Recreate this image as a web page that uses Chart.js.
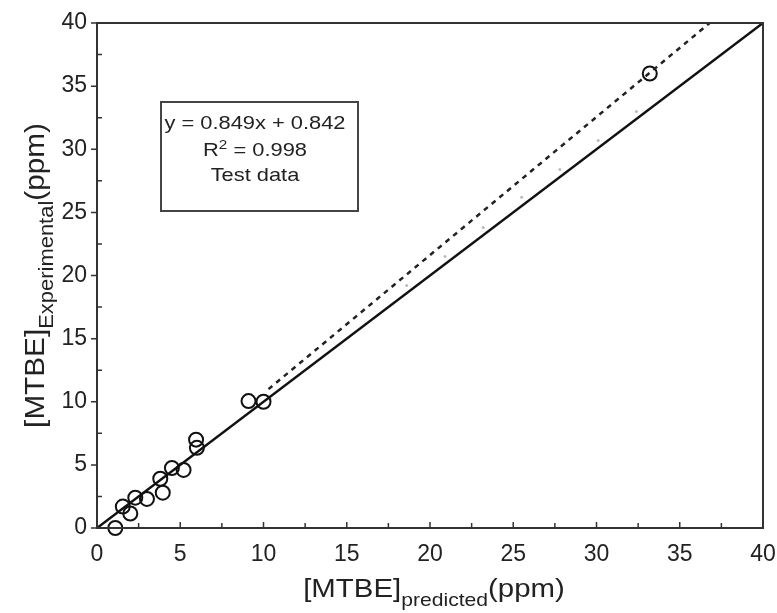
<!DOCTYPE html>
<html>
<head>
<meta charset="utf-8">
<script src="https://cdn.jsdelivr.net/npm/chart.js@4"></script>
<style>
  html, body { margin: 0; padding: 0; background: #fff; }
  #wrap { width: 777px; height: 613px; }
</style>
</head>
<body>
<div id="wrap"><canvas id="chart" width="777" height="613"></canvas></div>
<script>
// measured points (test data)
const predicted = [1.1, 1.55, 2.0, 2.3, 3.0, 3.8, 3.95, 4.5, 5.2, 5.95, 6.0, 9.1, 10.0, 33.2];
const experimental = [0, 1.7, 1.15, 2.4, 2.3, 3.9, 2.8, 4.75, 4.6, 7.0, 6.35, 10.05, 10.0, 36.0];

// faint grey marks between the lines
const faintX = [18.6, 20.9, 23.2, 25.5, 27.8, 30.1, 32.4];
const faintY = [19.2, 21.5, 23.8, 26.2, 28.4, 30.7, 33.0];

// y = x reference and the fitted line
const identityX = [0, 40];
const identityY = [0, 40];
const fitX = [10.3, 36.8];
const fitY = [11.0, 40];

const axisMin = 0;
const axisMax = 40;
const majorStep = 5;
const minorStep = 2.5;

const legendLines = ["y = 0.849x + 0.842", "R2 = 0.998", "Test data"];

const toPoints = (xs, ys) => xs.map((x, i) => ({ x: x, y: ys[i] }));

const fontFamily = "'Liberation Sans', Arial, sans-serif";
const ink = "#222";

// ticks (minor inside, major out on y) and the closing box
const frame = {
  id: "frame",
  afterDraw(chart) {
    const { ctx, chartArea: a, scales } = chart;
    ctx.save();
    ctx.strokeStyle = "#333";
    ctx.lineWidth = 2;
    ctx.strokeRect(a.left, a.top, a.right - a.left, a.bottom - a.top);
    ctx.lineWidth = 1.5;
    for (let v = axisMin; v <= axisMax; v += minorStep) {
      const major = v % majorStep === 0;
      const px = scales.x.getPixelForValue(v);
      const py = scales.y.getPixelForValue(v);
      ctx.beginPath();
      ctx.moveTo(px, a.bottom);
      ctx.lineTo(px, a.bottom - (major ? 6 : 5));
      ctx.moveTo(a.left, py);
      ctx.lineTo(major ? a.left - 6 : a.left + 5, py);
      ctx.stroke();
    }
    ctx.restore();
  }
};

// text pieces, stretched sideways like the scanned figure; sub = subscript
function drawRun(ctx, parts, x, y, size, sx, align) {
  const fontOf = p => (p.sub ? size * p.sub : size) + "px " + fontFamily;
  let total = 0;
  parts.forEach(p => { ctx.font = fontOf(p); total += ctx.measureText(p.t).width; });
  ctx.save();
  ctx.translate(x, y);
  ctx.scale(sx, 1);
  ctx.textAlign = "left";
  let cx = align === "center" ? -total / 2 : 0;
  parts.forEach(p => {
    ctx.font = fontOf(p);
    ctx.fillText(p.t, cx, p.dy || 0);
    cx += ctx.measureText(p.t).width;
  });
  ctx.restore();
}

const annotations = {
  id: "annotations",
  afterDraw(chart) {
    const { ctx, chartArea: a } = chart;
    ctx.save();
    ctx.fillStyle = ink;
    ctx.textBaseline = "alphabetic";
    drawRun(ctx, [{ t: "[MTBE]" }, { t: "predicted", sub: 0.72, dy: 9 }, { t: "(ppm)" }],
      (a.left + a.right) / 2 + 4, 597, 26, 1.13, "center");
    ctx.save();
    ctx.translate(44, (a.top + a.bottom) / 2);
    ctx.rotate(-Math.PI / 2);
    drawRun(ctx, [{ t: "[MTBE]" }, { t: "Experimental", sub: 0.74, dy: 9 }, { t: "(ppm)" }], 0, 0, 27, 1.1, "center");
    ctx.restore();

    // legend box
    ctx.strokeStyle = "#444";
    ctx.lineWidth = 2;
    ctx.strokeRect(161, 102, 197, 109);
    const cx = 255;
    drawRun(ctx, [{ t: legendLines[0] }], cx, 129, 19, 1.15, "center");
    drawRun(ctx, [{ t: legendLines[1][0] }, { t: legendLines[1][1], sub: 0.7, dy: -7 }, { t: legendLines[1].slice(2) }],
      cx, 156, 19, 1.15, "center");
    drawRun(ctx, [{ t: legendLines[2] }], cx, 181, 19, 1.15, "center");
    ctx.restore();
  }
};

new Chart(document.getElementById("chart"), {
  type: "scatter",
  data: {
    datasets: [
      {
        label: "y = x",
        type: "line",
        data: toPoints(identityX, identityY),
        borderColor: "#111",
        borderWidth: 2.5,
        pointRadius: 0,
        fill: false,
      },
      {
        label: "fit",
        type: "line",
        data: toPoints(fitX, fitY),
        borderColor: "#222",
        borderWidth: 2.5,
        borderDash: [5, 5],
        pointRadius: 0,
        fill: false,
      },
      {
        label: "faint",
        data: toPoints(faintX, faintY),
        pointRadius: 1.5,
        pointBackgroundColor: "#bbb",
        pointBorderWidth: 0,
      },
      {
        label: "Test data",
        data: toPoints(predicted, experimental),
        pointRadius: 7,
        pointBackgroundColor: "rgba(255,255,255,0)",
        pointBorderColor: "#111",
        pointBorderWidth: 2,
        clip: false,
      },
    ],
  },
  options: {
    responsive: false,
    animation: false,
    layout: { padding: { top: 23, right: 14, left: 0, bottom: 0 } },
    plugins: {
      legend: { display: false },
      tooltip: { enabled: false },
    },
    scales: {
      x: {
        type: "linear",
        min: axisMin,
        max: axisMax,
        ticks: { stepSize: majorStep, color: ink, font: { size: 23, family: fontFamily }, padding: 5, maxRotation: 0 },
        grid: { display: false },
        border: { display: false },
        afterFit(scale) {
          scale.height = 85;
          scale.paddingLeft = 0;
          scale.paddingRight = 0;
        },
      },
      y: {
        type: "linear",
        min: axisMin,
        max: axisMax,
        ticks: { stepSize: majorStep, color: ink, font: { size: 23, family: fontFamily }, padding: 2 },
        grid: { display: false },
        border: { display: false },
        afterFit(scale) { scale.width = 97; },
      },
    },
  },
  plugins: [frame, annotations],
});
</script>
</body>
</html>
